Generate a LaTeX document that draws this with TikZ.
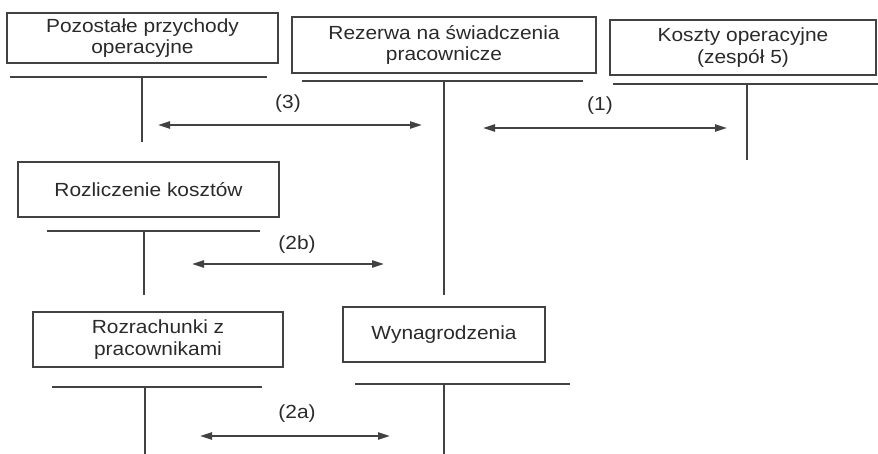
\documentclass[tikz,border=0pt]{standalone}
\usepackage{fontspec}
\setmainfont{Liberation Sans}[FakeStretch=1.1]
\usepackage{pgf,tikz}
\usetikzlibrary{arrows.meta,positioning,calc}
\definecolor{ink}{HTML}{424242}
\definecolor{txt}{HTML}{2A2A2A}

\begin{document}
\begin{tikzpicture}[x=0.5pt,y=0.5pt,
    konto/.style={draw=ink, line width=0.9pt, text=txt, align=center,
                  font=\fontsize{9.5pt}{10.8pt}\selectfont, inner sep=0pt},
    tline/.style={draw=ink, line width=0.9pt},
    ruch/.style={draw=ink, line width=0.9pt, >={Stealth[length=6pt,width=3.6pt,inset=0pt]}, <->},
    nr/.style={text=txt, font=\fontsize{9.5pt}{10.8pt}\selectfont, inner sep=0pt}]
\useasboundingbox (0,0) rectangle (878,-454);

  % konta
  \node[konto, minimum width=271*0.5pt, minimum height=50*0.5pt] (P) at (142.5,-38) {Pozostałe przychody\\operacyjne};
  \node[konto, minimum width=304*0.5pt, minimum height=56*0.5pt] (R) at (444,-45) {Rezerwa na świadczenia\\pracownicze};
  \node[konto, minimum width=266*0.5pt, minimum height=55*0.5pt] (K) at (743,-47.5) {Koszty operacyjne\\(zespół 5)};
  \node[konto, minimum width=261*0.5pt, minimum height=55*0.5pt] (L) at (148.5,-189.5) {Rozliczenie kosztów};
  \node[konto, minimum width=250*0.5pt, minimum height=55*0.5pt] (Z) at (158,-339.5) {Rozrachunki z\\pracownikami};
  \node[konto, minimum width=202*0.5pt, minimum height=55*0.5pt] (W) at (444,-334.5) {Wynagrodzenia};

  % konta T
  \draw[tline] (10,-77) -- (267,-77);   \draw[tline] (142,-77) -- (142,-142);
  \draw[tline] (302,-81) -- (583,-81);  \draw[tline] (444,-81) -- (444,-295);
  \draw[tline] (613,-84) -- (878,-84);  \draw[tline] (747,-84) -- (747,-160);
  \draw[tline] (47,-231) -- (260,-231); \draw[tline] (144,-231) -- (144,-295);
  \draw[tline] (52,-387) -- (262,-387); \draw[tline] (145,-387) -- (145,-454);
  \draw[tline] (355,-384) -- (570,-384);\draw[tline] (444,-384) -- (444,-454);

  % zapisy
  \coordinate (a3) at (158,-125);  \coordinate (b3) at (422,-125);
  \coordinate (a1) at (483,-128);  \coordinate (b1) at (727,-128);
  \coordinate (a2b) at (192,-264); \coordinate (b2b) at (384,-264);
  \coordinate (a2a) at (200,-436); \coordinate (b2a) at (390,-436);
  \draw[ruch] (a3) -- (b3);
  \draw[ruch] (a1) -- (b1);
  \draw[ruch] (a2b) -- (b2b);
  \draw[ruch] (a2a) -- (b2a);
  \node[nr] (n3) at (288,-104) {(3)};
  \node[nr] (n1) at (600,-106) {(1)};
  \node[nr] (n2b) at (297,-245) {(2b)};
  \node[nr] (n2a) at (297,-414) {(2a)};
\end{tikzpicture}
\end{document}
